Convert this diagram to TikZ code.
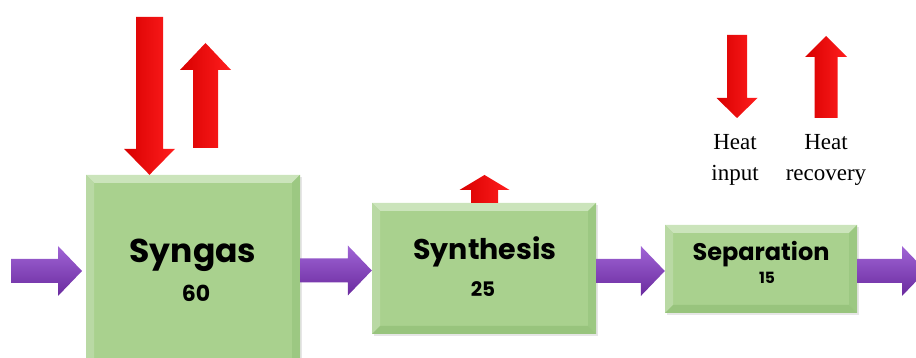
\documentclass[tikz,border=0pt]{standalone}
\usepackage{fontspec}
\setmainfont{Liberation Serif}
\newfontfamily\stagefont{Poppins}
\usetikzlibrary{calc,shadows}

\definecolor{boxgreen}{HTML}{A9D18E}
\definecolor{boxtop}{HTML}{CBE4BB}
\definecolor{boxleft}{HTML}{B9D9A4}
\definecolor{boxright}{HTML}{9CC882}
\definecolor{boxbottom}{HTML}{98C47D}
\definecolor{flowlight}{HTML}{A065D6}
\definecolor{flowdark}{HTML}{6A2A9E}
\definecolor{heatdark}{HTML}{D80000}
\definecolor{heatbright}{HTML}{FF1E1E}

\tikzset{
  stage/.style={rectangle, inner sep=0pt, fill=boxgreen,
    drop shadow={opacity=0.2, shadow xshift=2pt, shadow yshift=-2pt},
    path picture={
      \coordinate (nw) at (path picture bounding box.north west);
      \coordinate (ne) at (path picture bounding box.north east);
      \coordinate (sw) at (path picture bounding box.south west);
      \coordinate (se) at (path picture bounding box.south east);
      \fill[boxtop] (nw) -- (ne) -- ($(ne)+(-8,-8)$) -- ($(nw)+(8,-8)$) -- cycle;
      \fill[boxleft] (nw) -- ($(nw)+(8,-8)$) -- ($(sw)+(8,8)$) -- (sw) -- cycle;
      \fill[boxright] (ne) -- ($(ne)+(-8,-8)$) -- ($(se)+(-8,8)$) -- (se) -- cycle;
      \fill[boxbottom] (sw) -- ($(sw)+(8,8)$) -- ($(se)+(-8,8)$) -- (se) -- cycle;
    }},
  stagename/.style={anchor=base, inner sep=0pt},
  flow/.style={top color=flowlight, bottom color=flowdark},
  heat/.style={left color=heatdark, right color=heatbright},
  heatlabel/.style={font=\fontsize{23}{31}\selectfont, align=center, inner sep=0pt, anchor=north}
}

% horizontal block arrow from #1 to the tip #2
\newcommand\hflow[2]{%
  \path[flow] let \p1=(#1), \p2=(#2) in
    (\x1,\y2+12) -- (\x2-24,\y2+12) -- (\x2-24,\y2+25) -- (\x2,\y2)
    -- (\x2-24,\y2-25) -- (\x2-24,\y2-12) -- (\x1,\y2-12) -- cycle;}
% vertical block arrow: tail #1, tip #2, shaft half width #3, head half width #4, head length #5
\newcommand\upheat[5]{%
  \path[heat] let \p1=(#1), \p2=(#2) in
    (\x2-#3,\y1) -- (\x2-#3,\y2-#5) -- (\x2-#4,\y2-#5) -- (\x2,\y2)
    -- (\x2+#4,\y2-#5) -- (\x2+#3,\y2-#5) -- (\x2+#3,\y1) -- cycle;}
\newcommand\downheat[5]{%
  \path[heat] let \p1=(#1), \p2=(#2) in
    (\x2-#3,\y1) -- (\x2-#3,\y2+#5) -- (\x2-#4,\y2+#5) -- (\x2,\y2)
    -- (\x2+#4,\y2+#5) -- (\x2+#3,\y2+#5) -- (\x2+#3,\y1) -- cycle;}

\begin{document}
\begin{tikzpicture}[x=1pt, y=1pt]
  \useasboundingbox (0,0) rectangle (916,358);
  \clip (0,0) rectangle (916,358);

  % process stages
  \node[stage, minimum width=214pt, minimum height=200pt] (syngas) at (193,83) {};
  \node[stage, minimum width=224pt, minimum height=131pt] (synth) at (484,89.5) {};
  \node[stage, minimum width=192pt, minimum height=88pt] (sep) at (761,89) {};

  \node[stagename, font=\stagefont\bfseries\fontsize{33}{33}\selectfont] (syngasname) at (193,95) {Syngas};
  \node[stagename, font=\stagefont\bfseries\fontsize{22}{22}\selectfont] (syngasval) at (196,56) {60};
  \node[stagename, font=\stagefont\bfseries\fontsize{28.5}{28.5}\selectfont] (synthname) at (485,98) {Synthesis};
  \node[stagename, font=\stagefont\bfseries\fontsize{20}{20}\selectfont] (synthval) at (483,61) {25};
  \node[stagename, font=\stagefont\bfseries\fontsize{24}{24}\selectfont] (sepname) at (761,97) {Separation};
  \node[stagename, font=\stagefont\bfseries\fontsize{15.5}{15.5}\selectfont] (sepval) at (767,74) {15};

  % material flow
  \coordinate (feed) at (11,87);
  \coordinate (feedtip) at (82,87);
  \coordinate (product) at (926,87);
  \hflow{feed}{feedtip}
  \hflow{syngas.east}{$(synth.west)+(0,-2)$}
  \hflow{synth.east}{$(sep.west)+(0,-2)$}
  \hflow{sep.east}{product}

  % heat duties
  \coordinate (syngasin) at (149.5,341);
  \coordinate (syngasout) at (205.5,210);
  \coordinate (syngasouttip) at (205.5,315);
  \coordinate (synthouttip) at (484.5,183);
  \downheat{syngasin}{syngas.north -| syngasin}{13.5}{25.5}{26}
  \upheat{syngasout}{syngasouttip}{12.5}{25.5}{27}
  \upheat{synth.north -| synthouttip}{synthouttip}{13.5}{25}{15}

  % legend
  \coordinate (legin) at (737,323);
  \coordinate (legintip) at (737,240);
  \coordinate (legout) at (826,240);
  \coordinate (legouttip) at (826,322);
  \downheat{legin}{legintip}{10}{20.5}{20}
  \upheat{legout}{legouttip}{11.5}{21}{21}
  \node[heatlabel] (legintext) at (735,224) {Heat\\input};
  \node[heatlabel] (legouttext) at (826,224) {Heat\\recovery};
\end{tikzpicture}
\end{document}
